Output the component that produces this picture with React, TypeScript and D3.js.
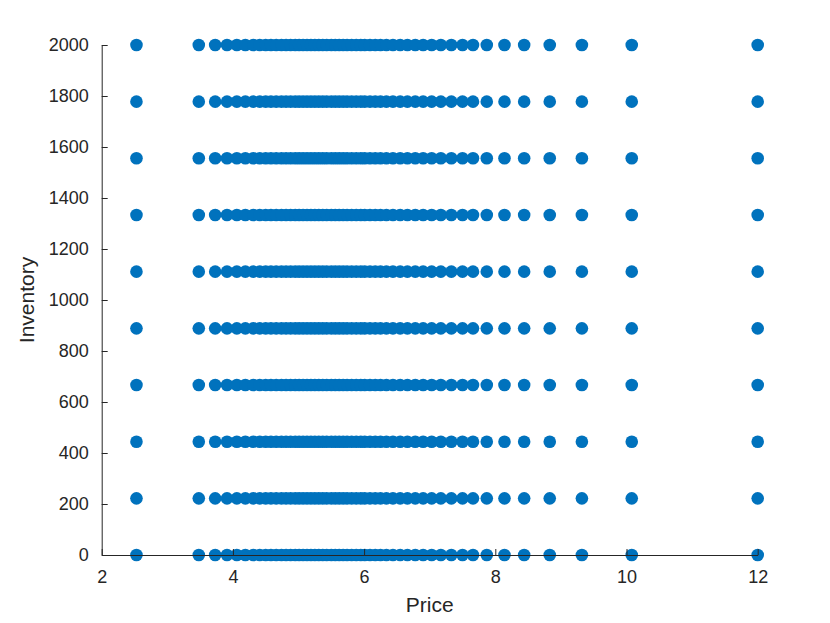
import React, { useRef, useEffect } from 'react';
import * as d3 from 'd3';

// price values (one column of markers per price)
const prices = [
  2.53, 3.48, 3.73, 3.91, 4.06, 4.19, 4.31, 4.41, 4.5, 4.58, 4.66, 4.74, 4.81, 4.88, 4.95,
  5.01, 5.07, 5.13, 5.19, 5.25, 5.31, 5.37, 5.43, 5.5, 5.56, 5.62, 5.68, 5.74, 5.81, 5.88,
  5.95, 6.01, 6.09, 6.17, 6.25, 6.34, 6.44, 6.55, 6.66, 6.78, 6.9, 7.03, 7.17, 7.33, 7.5,
  7.66, 7.87, 8.14, 8.44, 8.83, 9.32, 10.08, 12,
];
const inventories = [0, 222.2, 444.4, 666.7, 888.9, 1111.1, 1333.3, 1555.6, 1777.8, 2000];
const xTicks = [2, 4, 6, 8, 10, 12];
const yTicks = [0, 200, 400, 600, 800, 1000, 1200, 1400, 1600, 1800, 2000];

const App = () => {
  const svgRef = useRef<SVGSVGElement>(null);

  useEffect(() => {
    const width = 830;
    const height = 623;
    const margin = { left: 101.7, right: 72.3, top: 45, bottom: 68 };
    const axisColor = '#262626';
    const font = 'Liberation Sans, Arial, Helvetica, sans-serif';

    const x = d3.scaleLinear().domain([2, 12]).range([margin.left, width - margin.right]);
    const y = d3.scaleLinear().domain([0, 2000]).range([height - margin.bottom, margin.top]);

    const svg = d3.select(svgRef.current).attr('width', width).attr('height', height);
    svg.selectAll('*').remove();
    svg.append('rect').attr('width', width).attr('height', height).attr('fill', '#fff');

    const points = prices.flatMap(p => inventories.map(v => ({ p, v })));

    svg.append('g')
      .selectAll('circle')
      .data(points)
      .join('circle')
      .attr('cx', d => x(d.p))
      .attr('cy', d => y(d.v))
      .attr('r', 6.3)
      .attr('fill', '#0072BD');

    // x axis
    const gx = svg.append('g')
      .attr('transform', `translate(0,${y(0)})`)
      .call(d3.axisBottom(x).tickValues(xTicks).tickFormat(d3.format('d')).tickSizeInner(-6).tickSizeOuter(0).tickPadding(15));
    gx.select('.domain').attr('stroke', axisColor).attr('stroke-width', 1);
    gx.selectAll('.tick line').attr('stroke', axisColor);
    gx.selectAll('.tick text')
      .attr('fill', axisColor)
      .attr('font-family', font)
      .attr('font-size', 18);

    // y axis
    const gy = svg.append('g')
      .attr('transform', `translate(${x(2)},0)`)
      .call(d3.axisLeft(y).tickValues(yTicks).tickFormat(d3.format('d')).tickSizeInner(-6).tickSizeOuter(0).tickPadding(13));
    gy.select('.domain').attr('stroke', axisColor).attr('stroke-width', 1);
    gy.selectAll('.tick line').attr('stroke', axisColor);
    gy.selectAll('.tick text')
      .attr('fill', axisColor)
      .attr('font-family', font)
      .attr('font-size', 18);

    svg.append('text')
      .attr('x', (x(2) + x(12)) / 2)
      .attr('y', 612)
      .attr('text-anchor', 'middle')
      .attr('fill', axisColor)
      .attr('font-family', font)
      .attr('font-size', 21)
      .text('Price');

    svg.append('text')
      .attr('transform', `translate(34,${(y(0) + y(2000)) / 2}) rotate(-90)`)
      .attr('text-anchor', 'middle')
      .attr('fill', axisColor)
      .attr('font-family', font)
      .attr('font-size', 21)
      .text('Inventory');
  }, []);

  return (
    <svg ref={svgRef} style={{ position: 'absolute', left: 0, top: 0, display: 'block' }}></svg>
  );
};

export default App;
